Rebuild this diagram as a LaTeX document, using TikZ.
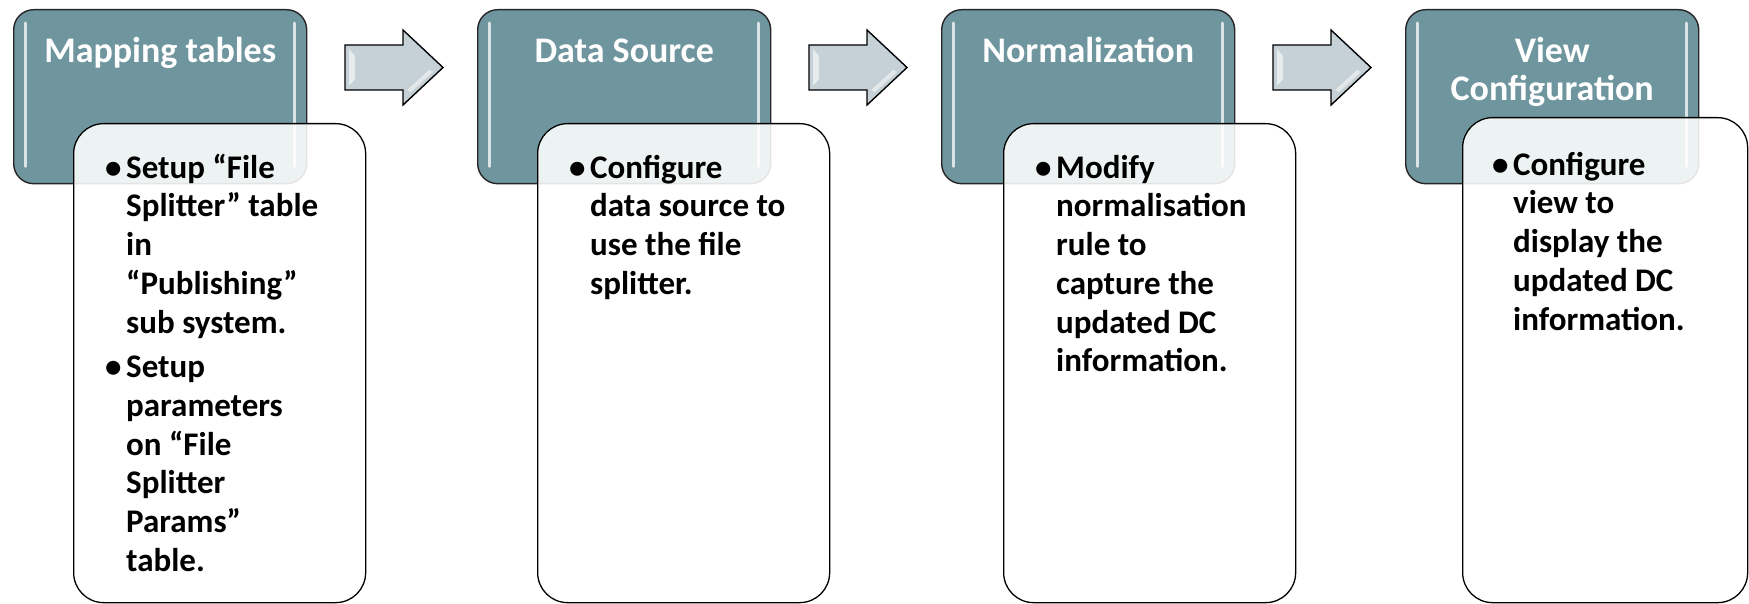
\documentclass[tikz,border=0pt]{standalone}
\usepackage{fontspec}
\setmainfont{Carlito}
\usepackage{tikz}
\usetikzlibrary{positioning}

\definecolor{headteal}{RGB}{111,150,159}
\definecolor{arrowgrey}{RGB}{197,209,214}
\newcommand{\tallstrut}{\rule{0pt}{26pt}}
\newcommand{\bul}{\tallstrut\makebox[21pt][l]{\textbullet}}
\newcommand{\cnt}{\hspace*{21pt}}

\begin{document}
\begin{tikzpicture}[x=1pt, y=-1pt,
    head_node/.style={draw=black!85, line width=1.4pt, fill=headteal, rounded corners=20pt, minimum width=293pt, minimum height=174pt, anchor=north west, inner sep=0},
    head_text/.style={text=white, font=\fontsize{36}{38}\selectfont\bfseries, align=center, anchor=north, inner sep=0},
    body_node/.style={draw=black, line width=1.3pt, fill=white, fill opacity=0.88, rounded corners=30pt, minimum width=292pt, minimum height=479pt, anchor=north west, inner sep=0},
    body_text/.style={font=\fontsize{33}{38.7}\selectfont\bfseries, align=left, anchor=north west, inner sep=0},
    glint/.style={white, opacity=0.75, line width=3pt, line cap=round},
    block_arrow/.style={draw=black, line width=1.4pt, fill=arrowgrey, line join=miter}]
    \useasboundingbox (0,0) rectangle (1749,604);

    % step 1
    \node[head_node] (map) at (13,9) {};
    \draw[glint] ([xshift=12pt,yshift=-14pt]map.north west) -- ([xshift=12pt,yshift=18pt]map.south west);
    \draw[glint] ([xshift=-13pt,yshift=-14pt]map.north east) -- ([xshift=-13pt,yshift=18pt]map.south east);
    \node[head_text] (maplabel) at ([yshift=-27pt]map.north) {\tallstrut Mapping tables};
    \node[body_node] (mapbody) at (73,123) {};
    \node[body_text] (maptxt) at ([xshift=32pt,yshift=-29pt]mapbody.north west) {\bul Setup “File\\
        \cnt Splitter” table\\
        \cnt in\\
        \cnt “Publishing”\\
        \cnt sub system.\\[6pt]
        \bul Setup\\
        \cnt parameters\\
        \cnt on “File\\
        \cnt Splitter\\
        \cnt Params”\\
        \cnt table.};

    % step 2
    \node[head_node] (src) at (477,9) {};
    \draw[glint] ([xshift=12pt,yshift=-14pt]src.north west) -- ([xshift=12pt,yshift=18pt]src.south west);
    \draw[glint] ([xshift=-13pt,yshift=-14pt]src.north east) -- ([xshift=-13pt,yshift=18pt]src.south east);
    \node[head_text] (srclabel) at ([yshift=-27pt]src.north) {\tallstrut Data Source};
    \node[body_node] (srcbody) at (537,123) {};
    \node[body_text] (srctxt) at ([xshift=32pt,yshift=-29pt]srcbody.north west) {\bul Configure\\
        \cnt data source to\\
        \cnt use the file\\
        \cnt splitter.};

    % step 3
    \node[head_node] (norm) at (941,9) {};
    \draw[glint] ([xshift=12pt,yshift=-14pt]norm.north west) -- ([xshift=12pt,yshift=18pt]norm.south west);
    \draw[glint] ([xshift=-13pt,yshift=-14pt]norm.north east) -- ([xshift=-13pt,yshift=18pt]norm.south east);
    \node[head_text] (normlabel) at ([yshift=-27pt]norm.north) {\tallstrut Normalization};
    \node[body_node] (normbody) at (1003,123) {};
    \node[body_text] (normtxt) at ([xshift=32pt,yshift=-29pt]normbody.north west) {\bul Modify\\
        \cnt normalisation\\
        \cnt rule to\\
        \cnt capture the\\
        \cnt updated DC\\
        \cnt information.};

    % step 4
    \node[head_node] (view) at (1405,9) {};
    \draw[glint] ([xshift=12pt,yshift=-14pt]view.north west) -- ([xshift=12pt,yshift=18pt]view.south west);
    \draw[glint] ([xshift=-13pt,yshift=-14pt]view.north east) -- ([xshift=-13pt,yshift=18pt]view.south east);
    \node[head_text] (viewlabel) at ([yshift=-27pt]view.north) {\tallstrut View\\Configuration};
    \node[body_node, minimum width=285pt, minimum height=485pt] (viewbody) at (1462,117) {};
    \node[body_text] (viewtxt) at ([xshift=30pt,yshift=-32pt]viewbody.north west) {\bul Configure\\
        \cnt view to\\
        \cnt display the\\
        \cnt updated DC\\
        \cnt information.};

    % arrows between the steps
    \foreach \ax in {345,809,1273} {
        \draw[block_arrow] (\ax,45) -- (\ax+58,45) -- (\ax+58,30) -- (\ax+98,67.5)
            -- (\ax+58,105) -- (\ax+58,90) -- (\ax,90) -- cycle;
        \fill[white, opacity=0.6] (\ax+4,49) -- (\ax+10,56) -- (\ax+10,79) -- (\ax+4,86) -- cycle;
        \fill[white, opacity=0.5] (\ax+62,90) -- (\ax+84,70) -- (\ax+88,72) -- (\ax+66,92) -- cycle;
    }
\end{tikzpicture}
\end{document}
